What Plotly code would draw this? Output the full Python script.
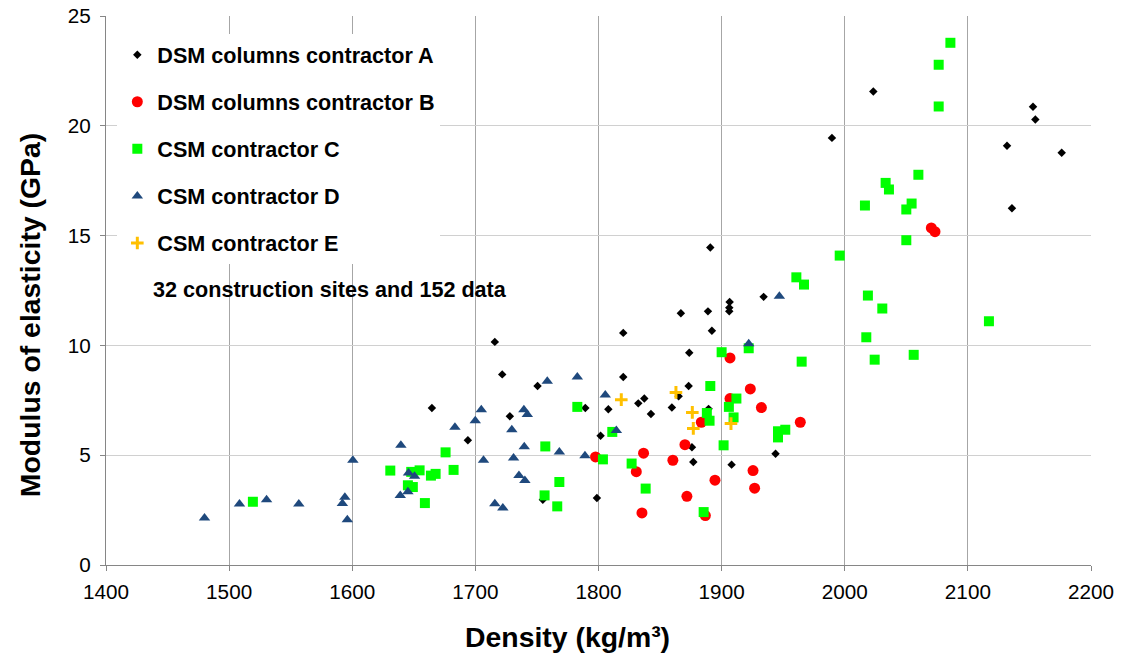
import plotly.graph_objects as go

# ---- data (density kg/m3, modulus GPa) ----
a_x = [1715.8, 1721.8, 1750.5, 1789.3, 1664.7, 1728.0, 1693.9, 1754.8, 1798.7, 1801.7,
       1934.1, 1906.5, 1906.2, 1906.2, 1888.9, 1866.9, 1892.1, 1820.1, 1873.7, 1820.1,
       1873.2, 1865.1, 1837.2, 1832.3, 1808.0, 1842.6, 1859.6, 1889.4, 1875.9, 1877.0,
       1908.1, 1943.8, 1890.8, 2023.2, 1989.6, 2152.9, 2154.8, 2131.8, 2176.2, 2135.8]
a_y = [10.16, 8.68, 8.15, 7.15, 7.15, 6.77, 5.68, 2.97, 3.05, 5.89,
       12.21, 11.98, 11.72, 11.55, 11.55, 11.46, 10.67, 10.57, 9.67, 8.56,
       8.15, 7.68, 7.58, 7.36, 7.09, 6.88, 7.17, 7.11, 5.36, 4.69,
       4.57, 5.07, 14.46, 21.56, 19.45, 20.87, 20.29, 19.09, 18.77, 16.25]

b_x = [1797.6, 1906.8, 1923.3, 1906.8, 1932.3, 1883.5, 1870.2, 1836.6, 1860.4, 1830.7,
       1925.5, 1894.6, 1926.8, 1871.8, 1835.3, 1886.8, 2070.3, 2073.3, 1963.9]
b_y = [4.92, 9.43, 8.02, 7.58, 7.17, 6.50, 5.48, 5.09, 4.77, 4.25,
       4.30, 3.86, 3.50, 3.13, 2.37, 2.25, 15.35, 15.18, 6.50]

c_x = [1519.3, 1782.8, 1675.8, 1630.9, 1647.9, 1654.7, 1663.9, 1667.7, 1682.3, 1645.2,
       1649.2, 1659.0, 1756.8, 1768.2, 1756.2, 1766.5, 1922.0, 1900.0, 1890.8, 1912.0,
       1905.9, 1888.0, 1890.2, 1909.7, 1945.8, 1951.7, 1945.8, 1811.2, 1901.6, 1803.6,
       1826.9, 1838.3, 1885.4, 2033.2, 2035.9, 2016.4, 2054.3, 2050.0, 2050.0, 1995.9,
       1960.7, 1966.9, 2018.8, 2030.5, 2117.1, 2017.5, 2024.3, 2056.0, 1965.0, 2085.8,
       2076.3, 2076.3, 2059.8]
c_y = [2.88, 7.20, 5.13, 4.30, 4.24, 4.31, 4.07, 4.15, 4.33, 3.63,
       3.55, 2.82, 5.40, 3.78, 3.17, 2.67, 9.87, 9.69, 8.15, 7.58,
       7.20, 6.92, 6.57, 6.72, 6.09, 6.16, 5.81, 6.06, 5.45, 4.81,
       4.62, 3.48, 2.41, 17.40, 17.10, 16.37, 16.46, 16.19, 14.79, 14.09,
       13.10, 12.77, 12.27, 11.68, 11.10, 10.37, 9.35, 9.57, 9.26, 23.78,
       22.78, 20.88, 17.77]

d_x = [1480.0, 1508.4, 1530.4, 1556.6, 1592.0, 1594.0, 1596.0, 1600.5, 1758.4, 1782.8,
       1704.8, 1699.9, 1739.4, 1742.2, 1729.6, 1683.4, 1639.5, 1645.7, 1650.6, 1645.2,
       1639.0, 1706.6, 1731.0, 1739.7, 1768.2, 1789.0, 1735.4, 1740.2, 1715.8, 1722.3,
       1946.9, 1922.0, 1805.5, 1814.5]
d_y = [2.14, 2.78, 2.97, 2.78, 2.80, 3.08, 2.06, 4.77, 8.37, 8.56,
       7.07, 6.57, 7.07, 6.85, 6.16, 6.27, 5.45, 4.19, 4.04, 3.33,
       3.16, 4.77, 4.87, 5.38, 5.15, 4.98, 4.07, 3.85, 2.79, 2.60,
       12.24, 10.07, 7.74, 6.12]

e_x = [1862.9, 1818.5, 1876.2, 1907.6, 1877.0]
e_y = [7.86, 7.53, 6.95, 6.44, 6.22]

names = ["DSM columns contractor A", "DSM columns contractor B", "CSM contractor C",
         "CSM contractor D", "CSM contractor E"]
note = "32 construction sites and 152 data"
x_title = "Density (kg/m³)"
y_title = "Modulus of elasticity (GPa)"
x_ticks = [1400, 1500, 1600, 1700, 1800, 1900, 2000, 2100, 2200]
y_ticks = [0, 5, 10, 15, 20, 25]

FONT = "Liberation Sans, Arial, sans-serif"

fig = go.Figure()
fig.add_trace(go.Scatter(x=a_x, y=a_y, mode="markers", name=names[0], legendgroup="a",
                         marker=dict(symbol="diamond", size=6.5, color="black")))
fig.add_trace(go.Scatter(x=b_x, y=b_y, mode="markers", name=names[1], legendgroup="b",
                         marker=dict(symbol="circle", size=11, color="#FF0000")))
fig.add_trace(go.Scatter(x=c_x, y=c_y, mode="markers", name=names[2], legendgroup="c",
                         marker=dict(symbol="square", size=10, color="#00FF00")))
fig.add_trace(go.Scatter(x=d_x, y=d_y, mode="markers", name=names[3], legendgroup="d",
                         marker=dict(symbol="triangle-up", size=10, color="#1F497D")))
fig.add_trace(go.Scatter(x=e_x, y=e_y, mode="markers", name=names[4], legendgroup="e",
                         marker=dict(symbol="cross-thin", size=9,
                                     line=dict(width=3, color="#FFC000"), color="#FFC000")))

fig.update_layout(
    width=1121, height=654,
    margin=dict(l=106, r=30, t=16, b=89),
    paper_bgcolor="white", plot_bgcolor="white",
    font=dict(family=FONT, color="black"),
    legend=dict(x=0.0115, y=0.967, xanchor="left", yanchor="top",
                bgcolor="white", borderwidth=0,
                font=dict(family=FONT, size=21.6, color="black", weight="bold"),
                traceorder="grouped", tracegroupgap=16),
    annotations=[
        dict(text=note, xref="paper", yref="paper", x=0.0457, y=0.501,
             xanchor="left", yanchor="middle", showarrow=False,
             font=dict(family=FONT, size=21.6, color="black", weight="bold")),
        dict(text=x_title, xref="paper", yref="paper", x=0.4685, y=-0.131,
             xanchor="center", yanchor="middle", showarrow=False,
             font=dict(family=FONT, size=28.4, color="black", weight="bold")),
        dict(text=y_title, xref="paper", yref="paper", x=-0.0772, y=0.455,
             xanchor="center", yanchor="middle", showarrow=False, textangle=-90,
             font=dict(family=FONT, size=28.4, color="black", weight="bold")),
    ],
)
fig.update_xaxes(range=[1400, 2200], tickvals=x_ticks, showgrid=True, gridcolor="#a6a6a6",
                 gridwidth=1, showline=True, linecolor="#868686", linewidth=1,
                 ticks="outside", ticklen=5, tickcolor="#868686", zeroline=False,
                 automargin=False, ticklabelstandoff=3, ticklabeloverflow="allow",
                 tickfont=dict(family=FONT, size=20.7, color="black"))
fig.update_yaxes(range=[0, 25], tickvals=y_ticks, showgrid=True, gridcolor="#d0d0d0",
                 gridwidth=1, showline=True, linecolor="#868686", linewidth=1,
                 ticks="outside", ticklen=5, tickcolor="#868686", zeroline=False,
                 automargin=False, ticklabelstandoff=5, ticklabeloverflow="allow",
                 tickfont=dict(family=FONT, size=20.7, color="black"))

# remove the browser's default 8px body margin so the 1121x654 figure fills the window
fig.write_html("out.html", config={"displayModeBar": False},
               post_script="document.body.style.margin='0px';document.body.style.overflow='hidden';")
